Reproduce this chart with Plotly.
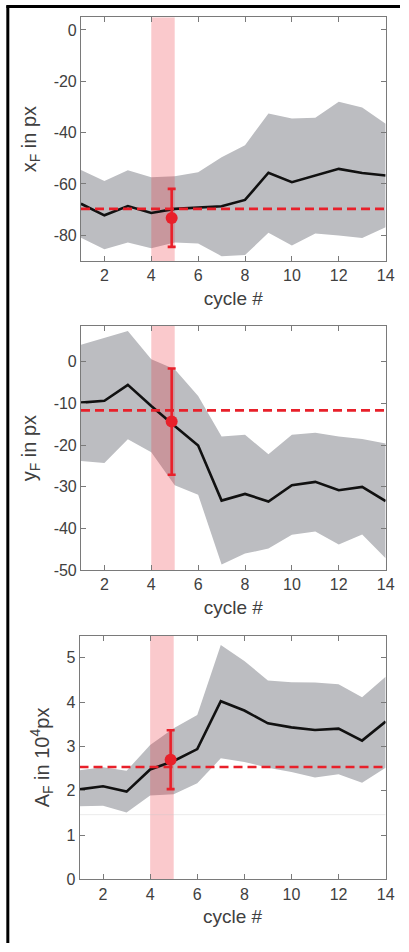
import plotly.graph_objects as go

W, H = 409, 952

cycles = list(range(1, 15))

# Panel 1: x_F in px
xf_mean = [-67.7, -72.2, -68.6, -71.3, -69.7, -69.1, -68.7, -66.2, -55.6, -59.3, -56.7, -54.1, -55.7, -56.7]
xf_upper = [-54.5, -58.8, -54.6, -57.4, -57.0, -55.4, -49.6, -44.9, -32.5, -34.5, -34.2, -28.0, -30.2, -36.5]
xf_lower = [-80.9, -85.4, -82.8, -85.0, -82.8, -83.2, -88.1, -87.7, -79.0, -84.0, -79.3, -80.1, -81.0, -76.8]
xf_ref = -69.7
xf_point = -73.2
xf_err = 11.3

# Panel 2: y_F in px
yf_mean = [-9.8, -9.35, -5.55, -10.6, -15.4, -20.1, -33.3, -31.7, -33.5, -29.6, -28.8, -30.8, -30.0, -33.4]
yf_upper = [4.1, 5.8, 7.4, 0.6, -1.8, -8.2, -17.9, -17.5, -22.2, -17.5, -17.0, -17.9, -18.5, -19.6]
yf_lower = [-23.8, -24.3, -18.6, -21.7, -29.6, -31.9, -48.6, -46.0, -44.8, -41.5, -40.7, -43.8, -41.4, -47.1]
yf_ref = -11.65
yf_point = -14.35
yf_err = 12.75

# Panel 3: A_F in 10^4 px
af_mean = [2.03, 2.10, 1.98, 2.48, 2.67, 2.94, 4.02, 3.81, 3.52, 3.43, 3.37, 3.40, 3.13, 3.56]
af_upper = [2.46, 2.53, 2.45, 3.03, 3.41, 3.71, 5.29, 4.93, 4.49, 4.45, 4.44, 4.40, 4.11, 4.57]
af_lower = [1.65, 1.66, 1.51, 1.89, 1.92, 2.17, 2.73, 2.65, 2.52, 2.42, 2.30, 2.37, 2.18, 2.52]
af_ref = 2.535
af_point = 2.70
af_err = 0.665
af_faint = 1.46

point_cycle = 4.87
highlight_cycle = [4, 5]

x_ticks = [2, 4, 6, 8, 10, 12, 14]
y1_ticks = [0, -20, -40, -60, -80]
y1_text = ["0", "-20", "-40", "-60", "-80"]
y2_ticks = [0, -10, -20, -30, -40, -50]
y2_text = ["0", "-10", "-20", "-30", "-40", "-50"]
y3_ticks = [0, 1, 2, 3, 4, 5]
y3_text = ["0", "1", "2", "3", "4", "5"]

y1_range = [-90, 5]
y2_range = [-50, 8.6]
y3_range = [0, 5.5]

RED = "#e8202a"
GRAY_FILL = "#bcbdc1"
PINK = "rgba(235,40,50,0.25)"
AXC = "#7a7a7a"
TXT = "#404040"
FONT = "Liberation Sans"

panels = [
    dict(mean=xf_mean, up=xf_upper, lo=xf_lower, ref=xf_ref, pt=xf_point, err=xf_err,
         yr=y1_range, tv=y1_ticks, tt=y1_text, title="x<sub>F</sub> in px",
         dom_y=[1 - 263.5 / H, 1 - 17.3 / H], dom_x=[82.8 / W, 394.3 / W]),
    dict(mean=yf_mean, up=yf_upper, lo=yf_lower, ref=yf_ref, pt=yf_point, err=yf_err,
         yr=y2_range, tv=y2_ticks, tt=y2_text, title="y<sub>F</sub> in px",
         dom_y=[1 - 575.7 / H, 1 - 329.0 / H], dom_x=[82.8 / W, 394.3 / W]),
    dict(mean=af_mean, up=af_upper, lo=af_lower, ref=af_ref, pt=af_point, err=af_err,
         yr=y3_range, tv=y3_ticks, tt=y3_text, title="A<sub>F</sub> in 10<sup>4</sup>px",
         dom_y=[1 - 887.7 / H, 1 - 641.7 / H], dom_x=[81.3 / W, 394.3 / W]),
]

fig = go.Figure()
layout = dict(
    width=W, height=H,
    margin=dict(l=0, r=0, t=0, b=0),
    paper_bgcolor="white", plot_bgcolor="white",
    showlegend=False,
    font=dict(family=FONT, size=16, color=TXT),
)

for i, p in enumerate(panels):
    n = "" if i == 0 else str(i + 1)
    xa, ya = "x" + n, "y" + n
    # gray spread band
    fig.add_trace(go.Scatter(
        x=cycles + cycles[::-1], y=p["up"] + p["lo"][::-1],
        xaxis=xa, yaxis=ya, mode="lines", fill="toself",
        fillcolor=GRAY_FILL, line=dict(width=0), hoverinfo="skip"))
    # pink highlight band
    h0, h1 = highlight_cycle
    fig.add_trace(go.Scatter(
        x=[h0, h1, h1, h0, h0], y=[p["yr"][0], p["yr"][0], p["yr"][1], p["yr"][1], p["yr"][0]],
        xaxis=xa, yaxis=ya, mode="lines", fill="toself",
        fillcolor=PINK, line=dict(width=0), hoverinfo="skip"))
    if i == 2:
        fig.add_trace(go.Scatter(
            x=[cycles[0], cycles[-1]], y=[af_faint, af_faint], xaxis=xa, yaxis=ya,
            mode="lines", line=dict(color="rgba(200,200,200,0.35)", width=1)))
    # mean line
    fig.add_trace(go.Scatter(
        x=cycles, y=p["mean"], xaxis=xa, yaxis=ya, mode="lines",
        line=dict(color="#111111", width=2.6)))
    # reference dashed line
    fig.add_trace(go.Scatter(
        x=[cycles[0], cycles[-1]], y=[p["ref"], p["ref"]], xaxis=xa, yaxis=ya,
        mode="lines", line=dict(color=RED, width=2.6, dash="9px,5px")))
    # point with error bar
    fig.add_trace(go.Scatter(
        x=[point_cycle], y=[p["pt"]], xaxis=xa, yaxis=ya, mode="markers",
        marker=dict(color=RED, size=12),
        error_y=dict(type="constant", value=p["err"], color=RED, thickness=2.6, width=4)))

    layout["xaxis" + n] = dict(
        domain=p["dom_x"], range=[cycles[0], cycles[-1]], anchor=ya,
        tickvals=x_ticks, ticks="inside", ticklen=5, tickcolor=AXC, tickwidth=1,
        showline=True, linecolor=AXC, linewidth=1, mirror="ticks",
        showgrid=False, zeroline=False,
        tickfont=dict(family=FONT, size=16, color=TXT),
        title=dict(text="cycle #", font=dict(family=FONT, size=19, color=TXT), standoff=8))
    layout["yaxis" + n] = dict(
        domain=p["dom_y"], range=p["yr"], anchor=xa,
        tickvals=p["tv"], ticktext=p["tt"], ticks="inside", ticklen=5, tickcolor=AXC, tickwidth=1,
        showline=True, linecolor=AXC, linewidth=1, mirror="ticks",
        showgrid=False, zeroline=False,
        tickfont=dict(family=FONT, size=16, color=TXT),
        title=dict(text=p["title"], font=dict(family=FONT, size=20, color=TXT), standoff=11))

layout["shapes"] = [
    dict(type="line", xref="paper", yref="paper", x0=8 / W, x1=8 / W, y0=0, y1=1 - 5.5 / H,
         line=dict(color="black", width=3)),
    dict(type="line", xref="paper", yref="paper", x0=6.5 / W, x1=1, y0=1 - 6.5 / H, y1=1 - 6.5 / H,
         line=dict(color="black", width=3)),
]

fig.update_layout(**layout)
fig.write_html("out.html")
